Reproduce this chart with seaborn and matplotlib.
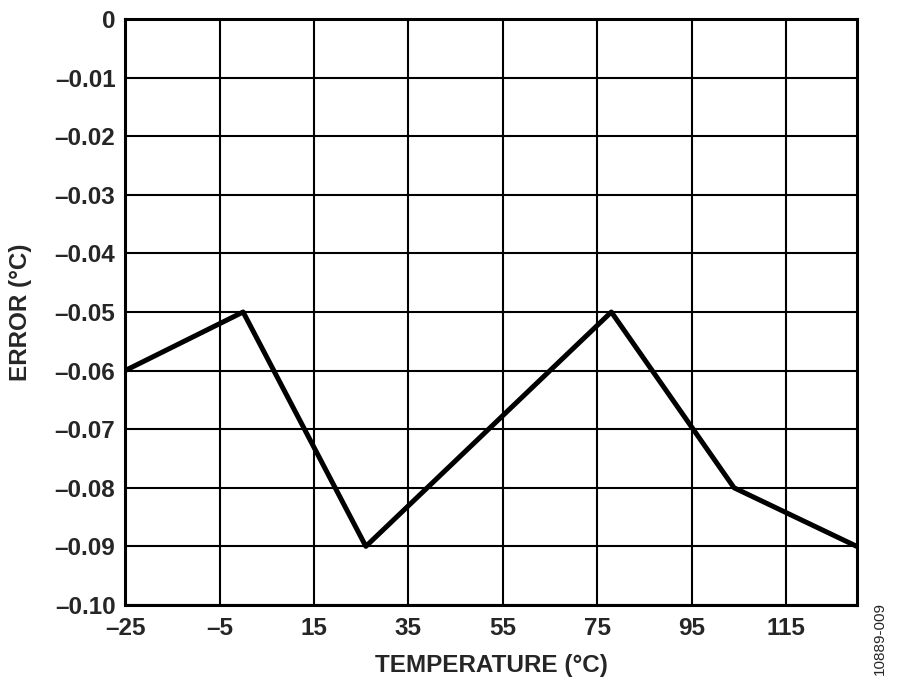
import pandas as pd
import seaborn as sns
import matplotlib.pyplot as plt

# temperature error curve
temperature = [-25, 0, 26, 78, 104, 130]
error = [-0.06, -0.05, -0.09, -0.05, -0.08, -0.09]
x_ticks = [-25, -5, 15, 35, 55, 75, 95, 115]
y_ticks = [0, -0.01, -0.02, -0.03, -0.04, -0.05, -0.06, -0.07, -0.08, -0.09, -0.10]

df = pd.DataFrame({'temperature': temperature, 'error': error})

sns.set_style('white')
plt.rcParams['font.family'] = ['Liberation Sans', 'DejaVu Sans']
plt.rcParams['font.weight'] = 'bold'

fig = plt.figure(figsize=(9, 6.87), dpi=100)
ax = fig.add_axes([0.139, 0.1194, 0.813, 0.8529])
sns.lineplot(x='temperature', y='error', data=df, ax=ax, color='black', linewidth=3.6)

ax.set_xlim(-25, 130)
ax.set_ylim(-0.10, 0)
ax.set_xticks(x_ticks)
ax.set_yticks(y_ticks)
ax.set_xticklabels([str(t).replace('-', '\u2013') for t in x_ticks])
ax.set_yticklabels(['0' if v == 0 else '\u2013%.2f' % abs(v) for v in y_ticks])
ax.tick_params(length=0, labelsize=17.5)
ax.tick_params(axis='x', pad=9)
ax.tick_params(axis='y', pad=7)
for lab in ax.get_xticklabels() + ax.get_yticklabels():
    lab.set_fontweight('bold')

ax.grid(True, color='black', linewidth=1.5)
ax.set_axisbelow(True)
for s in ax.spines.values():
    s.set_color('black')
    s.set_linewidth(2.2)

ax.set_xlabel('TEMPERATURE (°C)', fontsize=17.5, fontweight='bold', labelpad=10)
ax.set_ylabel('ERROR (°C)', fontsize=17.5, fontweight='bold', labelpad=16)

fig.text(0.978, 0.07, '10889-009', rotation=90, fontsize=11,
         fontweight='normal', ha='center', va='center')

fig.savefig('out.png', dpi=100)
